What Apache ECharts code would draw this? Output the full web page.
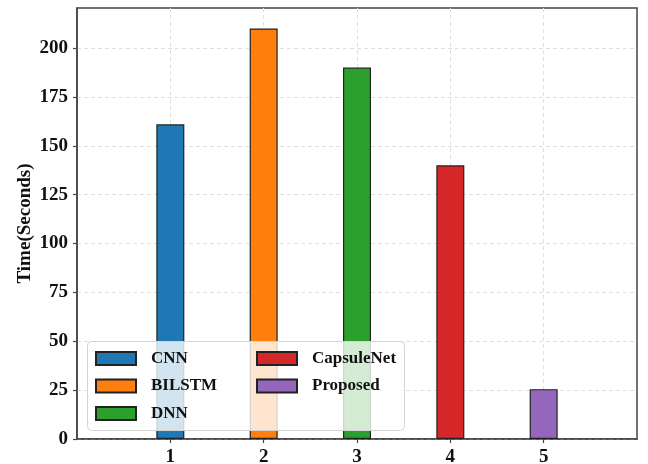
<!DOCTYPE html>
<html>
<head>
<meta charset="utf-8">
<script src="https://cdn.jsdelivr.net/npm/echarts@6/dist/echarts.min.js"></script>
<style>
  html, body { margin: 0; padding: 0; background: #fff; }
  #chart { width: 648px; height: 464px; }
</style>
</head>
<body>
<div id="chart"></div>
<script>
// Training time per model
const positions = [1, 2, 3, 4, 5];
const models = ['CNN', 'BILSTM', 'DNN', 'CapsuleNet', 'Proposed'];
const times = [161, 210, 190, 140, 25.5];
const colors = ['#1f77b4', '#ff7f0e', '#2ca02c', '#d62728', '#9467bd'];
const yTicks = [0, 25, 50, 75, 100, 125, 150, 175, 200];
const xTicks = [1, 2, 3, 4, 5];

const font = 'Liberation Serif, Times New Roman, serif';
const spine = '#444';
const gridLine = { show: true, lineStyle: { color: '#dedede', type: [4, 3], width: 1 } };

const legendText = {
  fontFamily: font, fontWeight: 'bold', fontSize: 17, color: '#111',
  lineHeight: 16, padding: [0, 0, 0, 10]
};
const legendBase = {
  orient: 'vertical', top: 350, itemGap: 10.5, itemWidth: 40, itemHeight: 13,
  icon: 'rect', padding: 0, z: 10, textStyle: legendText
};

const chart = echarts.init(document.getElementById('chart'), null, { renderer: 'canvas' });
chart.setOption({
  animation: false,
  backgroundColor: '#fff',
  grid: {
    left: 77, top: 8, right: 11, bottom: 25,
    outerBoundsMode: 'none', containLabel: false,
    show: true, borderColor: spine, borderWidth: 1.5, backgroundColor: 'transparent'
  },
  xAxis: {
    type: 'value', min: 0, max: 6, interval: 1,
    axisLine: { show: true, lineStyle: { color: spine, width: 1.5 } },
    axisTick: { show: true, length: 4, lineStyle: { color: spine, width: 1.2 }, customValues: xTicks },
    axisLabel: {
      customValues: xTicks, margin: 9,
      fontFamily: font, fontWeight: 'bold', fontSize: 19, color: '#111'
    },
    splitLine: gridLine
  },
  yAxis: {
    type: 'value', min: 0, max: 220.5, interval: 25,
    name: 'Time(Seconds)', nameLocation: 'middle', nameGap: 42, nameMoveOverlap: false,
    nameTextStyle: { fontFamily: font, fontWeight: 'bold', fontSize: 19, color: '#111' },
    axisLine: { show: true, lineStyle: { color: spine, width: 1.5 } },
    axisTick: { show: true, length: 4, lineStyle: { color: spine, width: 1.2 }, customValues: yTicks },
    axisLabel: {
      customValues: yTicks, margin: 9,
      fontFamily: font, fontWeight: 'bold', fontSize: 19, color: '#111'
    },
    splitLine: gridLine
  },
  legend: [
    Object.assign({}, legendBase, { left: 95, data: models.slice(0, 3) }),
    Object.assign({}, legendBase, { left: 256, data: models.slice(3) })
  ],
  graphic: [{
    type: 'rect', left: 87, top: 341, z: 5,
    shape: { width: 317, height: 89, r: 4 },
    style: { fill: 'rgba(255,255,255,0.8)', stroke: '#d4d4d4', lineWidth: 1 }
  }],
  series: models.map((name, i) => ({
    name: name,
    type: 'bar',
    barWidth: 28,
    barGap: '-100%',
    data: [[positions[i], times[i]]],
    itemStyle: { color: colors[i], borderColor: '#222', borderWidth: 1.2 }
  }))
});
</script>
</body>
</html>
